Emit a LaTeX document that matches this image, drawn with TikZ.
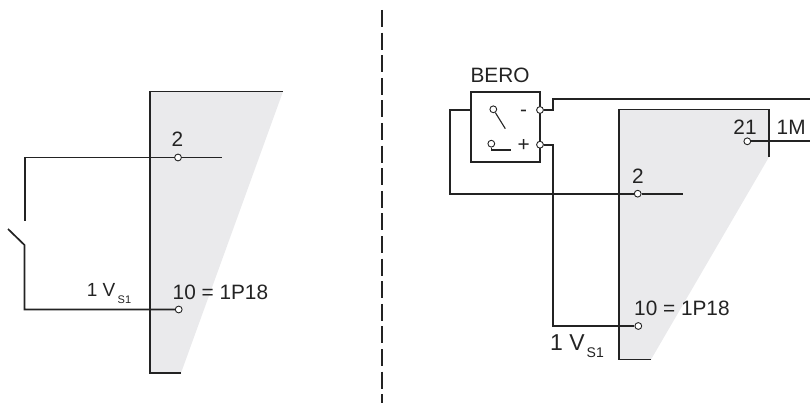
\documentclass[tikz,border=0pt]{standalone}
\usepackage{fontspec}
\setmainfont{Liberation Sans}
\usetikzlibrary{calc}
\definecolor{cbPanel}{RGB}{234,234,236}
\definecolor{cbWire}{RGB}{35,35,35}
\tikzset{
    wire/.style={draw=cbWire,line width=1.7pt},
    thinwire/.style={draw=cbWire,line width=1.1pt},
    panel/.style={fill=cbPanel,draw=none},
    term/.style={circle,draw=cbWire,fill=white,line width=0.9pt,inner sep=0pt,minimum size=6.8pt},
    lbl/.style={anchor=base west,inner sep=0pt,font=\fontsize{20.8}{22}\selectfont,text=cbWire},
    sublbl/.style={anchor=base west,inner sep=0pt,text=cbWire},
}
\begin{document}
\begin{tikzpicture}[x=1pt,y=-1pt]
    \useasboundingbox (0,0) rectangle (810,403);
    % left half
    \fill[panel] (150,91.5) -- (283,91.5) -- (181,373) -- (150,373) -- cycle;
    \draw[wire] (181,373) -- (150,373) -- (150,91.5) -- (283,91.5);
    \coordinate (end2a) at (222,157.5);
    \coordinate (swtop) at (25,221);
    \coordinate (swbot) at (24.5,245);
    \coordinate (swfree) at (8,229);
    \node[term] (t2a) at (178,157.5) {};
    \node[term] (t10a) at (178.7,309.5) {};
    \draw[wire] (swtop) |- (t2a);
    \draw[wire] (t2a) -- (end2a);
    \draw[wire] (swfree) -- (swbot) |- (t10a);
    \node[lbl,anchor=base] (n2a) at (177.5,146.7) {2};
    \node[lbl] (n10a) at (172.5,299) {10 = 1P18};
    \node[lbl,font=\fontsize{19}{21}\selectfont] (n1a) at (86.7,296.5) {1 V};
    \node[sublbl,font=\fontsize{11}{12}\selectfont] (s1a) at (117.5,303.5) {S1};

    % separator
    \coordinate (seppt) at (382,10);
    \coordinate (sepend) at (382,403);
    \draw[wire,dash pattern=on 17pt off 5.6pt] (seppt) -- (sepend);

    % right half
    \fill[panel] (619,109.5) -- (769,109.5) -- (769,157) -- (651,359.5) -- (619,359.5) -- cycle;
    \draw[wire] (651,359.5) -- (619,359.5) -- (619,109.5) -- (769,109.5) -- (769,157);
    \node[draw=cbWire,line width=1.7pt,minimum width=69pt,minimum height=69.5pt,inner sep=0pt] (bero) at (505.5,127) {};
    \node[lbl,anchor=base] (nbero) at (500,82.7) {BERO};
    \coordinate (swaend) at (505.3,128.7);
    \coordinate (swbend) at (511,150);
    \coordinate (end2b) at (683,193.7);
    \coordinate (endm) at (810,98.7);
    \coordinate (end1m) at (810,141.3);
    \node[term] (tminus) at (540,110) {};
    \node[term] (tplus) at (540,144.7) {};
    \node[term] (t2b) at (637.7,193.7) {};
    \node[term] (t10b) at (638.3,326) {};
    \node[term] (t21) at (747.3,141.3) {};
    \node[term] (swa) at (493.3,109.3) {};
    \node[term] (swb) at (491.3,143.7) {};
    \draw[thinwire] (swa) -- (swaend);
    \draw[thinwire] (swb) |- (swbend);
    \draw[wire] (tminus) -- (553.3,110) -- (553.3,98.7) -- (endm);
    \draw[wire] (tplus) -- (553.3,144.7) |- (t10b);
    \draw[wire] (bero.west |- tminus) -- (450,110) |- (t2b);
    \draw[wire] (t2b) -- (end2b);
    \draw[wire] (t21) -- (end1m);
    \node[lbl,anchor=base] (nminus) at (523.7,117) {-};
    \node[lbl,anchor=base] (nplus) at (523.7,151.5) {+};
    \node[lbl,anchor=base] (n21) at (745,135) {21};
    \node[lbl] (n1m) at (776.5,135) {1M};
    \node[lbl,anchor=base] (n2b) at (638,184) {2};
    \node[lbl] (n10b) at (634,315) {10 = 1P18};
    \node[lbl,font=\fontsize{23}{25}\selectfont] (n1b) at (550,350) {1 V};
    \node[sublbl,font=\fontsize{14}{15}\selectfont] (s1b) at (586.5,357) {S1};
\end{tikzpicture}
\end{document}
